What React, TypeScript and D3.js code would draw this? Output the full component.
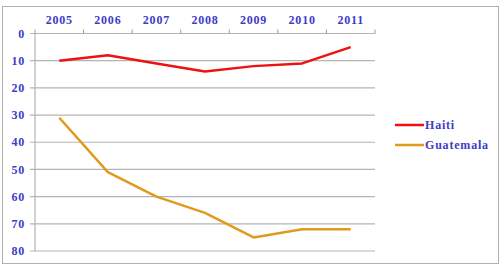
import { useEffect, useRef } from "react";
import * as d3 from "d3";

const YEARS = ["2005", "2006", "2007", "2008", "2009", "2010", "2011"];
const HAITI = [10, 8, 11, 14, 12, 11, 5];
const GUATEMALA = [31, 51, 60, 66, 75, 72, 72];
const Y_TICKS = [0, 10, 20, 30, 40, 50, 60, 70, 80];

const SERIES = [
  { name: "Haiti", values: HAITI, color: "#ee1111" },
  { name: "Guatemala", values: GUATEMALA, color: "#e09a1c" },
];

export default function App() {
  const svgRef = useRef<SVGSVGElement>(null);

  useEffect(() => {
    if (!svgRef.current) return;
    const W = 504, H = 266;
    const svg = d3.select(svgRef.current).attr("width", W).attr("height", H);
    svg.selectAll("*").remove();

    const labelColor = "#3c3cc8";
    const font = "'Liberation Serif', 'Times New Roman', serif";

    svg.append("rect").attr("x", 2.5).attr("y", 6.5).attr("width", 496).attr("height", 257)
      .attr("fill", "white").attr("stroke", "#b0b0b0").attr("stroke-width", 1);

    const x = d3.scaleBand().domain(YEARS).range([35, 375]);
    const y = d3.scaleLinear().domain([0, 80]).range([33.5, 251]);

    // gridlines
    Y_TICKS.forEach(v => {
      svg.append("line").attr("x1", 30).attr("x2", 375).attr("y1", y(v)).attr("y2", y(v))
        .attr("stroke", "#b4b4b4").attr("stroke-width", 1.2);
    });
    // left axis
    svg.append("line").attr("x1", 35).attr("x2", 35).attr("y1", y(0)).attr("y2", y(80))
      .attr("stroke", "#b4b4b4").attr("stroke-width", 1.2);
    // top tick marks
    const edges = YEARS.map(d => x(d)!).concat([x.range()[1]]);
    edges.forEach(e => {
      svg.append("line").attr("x1", e).attr("x2", e).attr("y1", y(0) - 4).attr("y2", y(0))
        .attr("stroke", "#999").attr("stroke-width", 1);
    });

    const txt = (sel: d3.Selection<SVGTextElement, unknown, null, undefined>) =>
      sel.attr("font-family", font).attr("font-weight", "bold").attr("font-size", 12)
        .attr("letter-spacing", 0.8).attr("fill", labelColor);

    YEARS.forEach(d => {
      svg.append("text").attr("x", x(d)! + x.bandwidth() / 2).attr("y", 24)
        .attr("text-anchor", "middle").call(txt).text(d);
    });
    Y_TICKS.forEach(v => {
      svg.append("text").attr("x", 25).attr("y", y(v)).attr("dy", "0.35em")
        .attr("text-anchor", "end").call(txt).text(v);
    });

    const line = d3.line<number>()
      .x((_, i) => x(YEARS[i])! + x.bandwidth() / 2)
      .y(v => y(v));

    SERIES.forEach((s, i) => {
      svg.append("path").datum(s.values).attr("d", line).attr("fill", "none")
        .attr("stroke", s.color).attr("stroke-width", 2.5).attr("stroke-linejoin", "round");
      const ly = 125 + i * 20;
      svg.append("line").attr("x1", 395).attr("x2", 424).attr("y1", ly).attr("y2", ly)
        .attr("stroke", s.color).attr("stroke-width", 2.5);
      svg.append("text").attr("x", 425).attr("y", ly).attr("dy", "0.35em").call(txt).text(s.name);
    });
  }, []);

  return <svg ref={svgRef} style={{ position: "fixed", left: 0, top: 0, display: "block" }} />;
}
